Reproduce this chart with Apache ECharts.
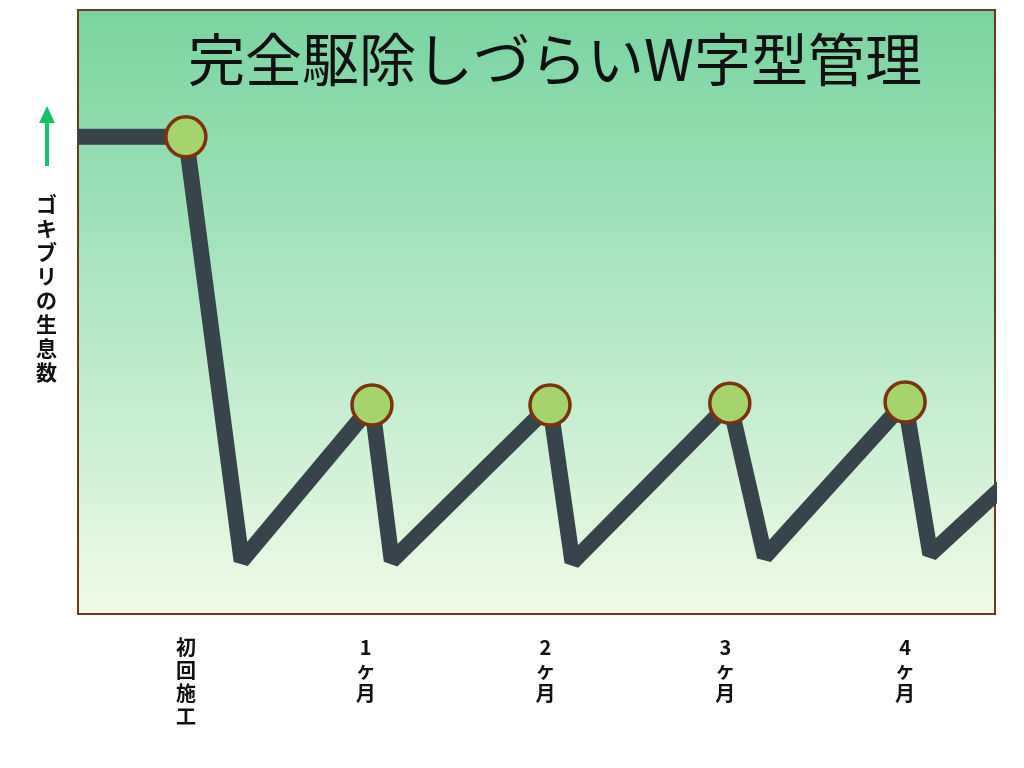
<!DOCTYPE html>
<html>
<head>
<meta charset="utf-8">
<title>完全駆除しづらいW字型管理</title>
<script src="https://cdn.jsdelivr.net/npm/echarts@6/dist/echarts.min.js"></script>
<style>
    html, body { margin: 0; padding: 0; background: #fff; }
    #main { width: 1024px; height: 768px; }
</style>
</head>
<body>
<div id="main"></div>
<script>
// x軸の目盛ラベル (0,1,2,3,4 の位置)
var tickLabels = ['初回施工', '1ヶ月', '2ヶ月', '3ヶ月', '4ヶ月'];

// 折れ線の頂点 (x: 月, y: 生息数の相対値)
var lineX = [-0.6, 0, 0.31, 1.035, 1.145, 2.025, 2.15, 3.025, 3.22, 4.0, 4.14, 4.55];
var lineY = [79.0, 79.0, 8.8, 34.6, 8.8, 34.6, 8.6, 34.9, 9.5, 35.1, 9.9, 21.2];

// 丸印をつける頂点の番号
var peakIdx = [1, 3, 5, 7, 9];

doDraw();

function doDraw() {
    var myChart = echarts.init(document.getElementById('main'));

    var lineData = [];
    for (var i = 0; i < lineX.length; i++) {
        lineData.push([lineX[i], lineY[i]]);
    }
    var peakData = [];
    for (var j = 0; j < peakIdx.length; j++) {
        peakData.push([lineX[peakIdx[j]], lineY[peakIdx[j]]]);
    }

    var option = {
        backgroundColor: '#ffffff',
        title: {
            text: '完全駆除しづらいW字型管理',
            left: 550,
            top: 25,
            textAlign: 'center',
            textStyle: {
                fontFamily: 'Noto Sans CJK JP',
                fontSize: 57,
                fontWeight: 'normal',
                lineHeight: 58,
                color: '#111'
            }
        },
        grid: {
            left: 78,
            right: 29,
            top: 10,
            bottom: 154,
            show: true,
            borderColor: '#6b3a1e',
            borderWidth: 2,
            backgroundColor: new echarts.graphic.LinearGradient(0, 0, 0, 1, [
                { offset: 0, color: '#79d3a0' },
                { offset: 0.5, color: '#b1e7c4' },
                { offset: 1, color: '#f0fbe7' }
            ])
        },
        xAxis: {
            type: 'value',
            min: -0.6,
            max: 4.5,
            interval: 0.1,
            axisLine: { show: false },
            axisTick: { show: false },
            splitLine: { show: false },
            axisLabel: {
                margin: 22,
                fontFamily: 'Noto Sans CJK JP',
                fontSize: 20,
                fontWeight: 'bold',
                lineHeight: 23,
                color: '#111',
                formatter: function (v) {
                    var k = Math.round(v);
                    if (Math.abs(v - k) > 1e-6 || k < 0 || k >= tickLabels.length) return '';
                    return tickLabels[k].split('').join('\n');
                }
            }
        },
        yAxis: {
            type: 'value',
            min: 0,
            max: 100,
            axisLine: { show: false },
            axisTick: { show: false },
            splitLine: { show: false },
            axisLabel: { show: false },
            // 縦書き風 (下に空行2つで少し上に寄せる)
            name: 'ゴキブリの生息数'.split('').join('\n') + '\n\n',
            nameLocation: 'middle',
            nameRotate: 0,
            nameGap: 21,
            nameTextStyle: {
                fontFamily: 'Noto Sans CJK JP',
                fontSize: 21,
                fontWeight: 'bold',
                lineHeight: 24,
                color: '#111'
            }
        },
        graphic: [
            {
                type: 'line',
                shape: { x1: 47, y1: 166, x2: 47, y2: 120 },
                style: { stroke: '#17c168', lineWidth: 4 }
            },
            {
                type: 'polygon',
                shape: { points: [[47, 106], [39, 123], [55, 123]] },
                style: { fill: '#17c168' }
            },
            {
                // 右端からはみ出た線を隠す
                type: 'rect',
                z: 100,
                shape: { x: 997, y: 0, width: 27, height: 768 },
                style: { fill: '#ffffff' }
            }
        ],
        series: [
            {
                type: 'line',
                data: lineData,
                showSymbol: false,
                silent: true,
                lineStyle: { color: '#37444c', width: 16, join: 'bevel' },
                z: 2
            },
            {
                type: 'scatter',
                data: peakData,
                symbol: 'circle',
                symbolSize: 40,
                silent: true,
                itemStyle: { color: '#a5d46c', borderColor: '#7b3210', borderWidth: 3.5, opacity: 1 },
                z: 3
            }
        ]
    };

    myChart.setOption(option);
}
</script>
</body>
</html>
